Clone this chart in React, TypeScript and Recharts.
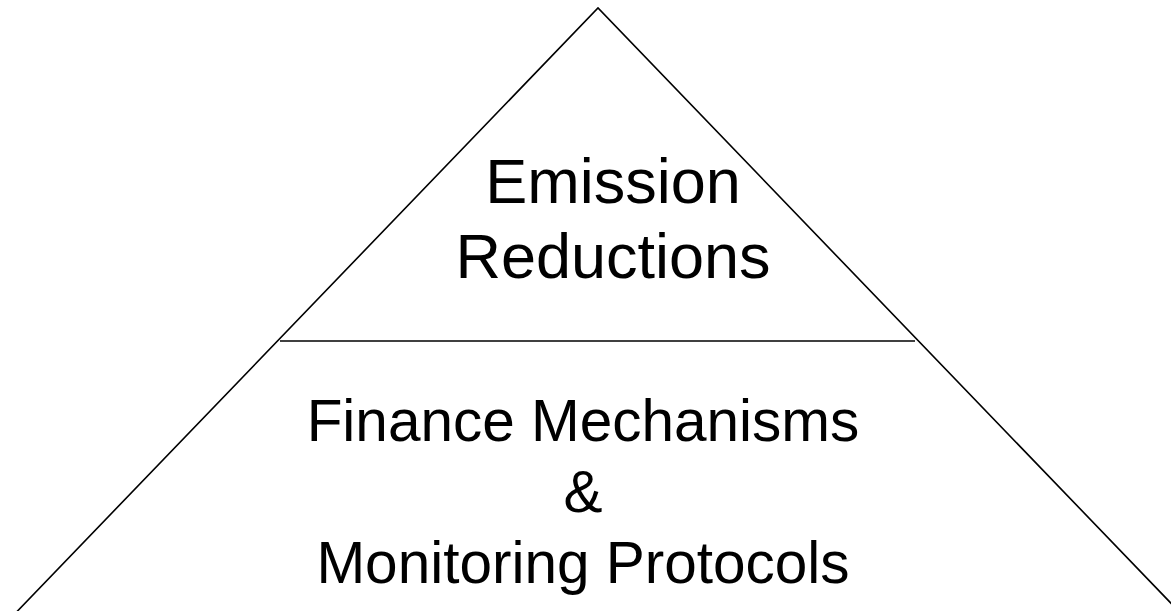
import React from "react";
import {ComposedChart, Line, Scatter, XAxis, YAxis} from "recharts";

// pyramid geometry, in page pixels (y grows downwards)
const outline = [
    {x: -20, y: 650},
    {x: 598, y: 8},
    {x: 1216, y: 650},
];
const divider = [
    {x: 280, y: 341},
    {x: 915, y: 341},
];

const levels = ["Emission Reductions", "Finance Mechanisms & Monitoring Protocols"];

const labelLines = [
    {x: 613, y: 203, text: "Emission", level: 0},
    {x: 613, y: 278, text: "Reductions", level: 0},
    {x: 583, y: 441, text: "Finance Mechanisms", level: 1},
    {x: 583, y: 512, text: "&", level: 1},
    {x: 583, y: 583, text: "Monitoring Protocols", level: 1},
];

const levelFontSize = [63, 58.5];

const LabelShape = (props: any) => {
    const {cx, cy, payload} = props;
    return (
        <text x={cx} y={cy}
              textAnchor="middle"
              fontSize={levelFontSize[payload.level]}
              fontFamily="'Liberation Sans', Arial, sans-serif"
              fill="#000"
        >
            {payload.text}
        </text>
    );
};

const App = () => {
    return (
        <div style={{position: "absolute", left: 0, top: 0, background: "#fff"}} title={levels.join(" / ")}>
            <ComposedChart width={1171} height={611} margin={{top: 0, right: 0, bottom: 0, left: 0}}>
                <XAxis type="number" dataKey="x" domain={[0, 1171]} allowDataOverflow hide/>
                <YAxis type="number" dataKey="y" domain={[0, 611]} reversed allowDataOverflow hide/>
                <Line data={outline}
                      dataKey="y"
                      stroke="#000"
                      strokeWidth={1.6}
                      dot={false}
                      activeDot={false}
                      isAnimationActive={false}
                />
                <Line data={divider}
                      dataKey="y"
                      stroke="#000"
                      strokeWidth={1.6}
                      dot={false}
                      activeDot={false}
                      isAnimationActive={false}
                />
                <Scatter data={labelLines}
                         dataKey="y"
                         shape={LabelShape}
                         isAnimationActive={false}
                />
            </ComposedChart>
        </div>
    );
};

export default App;
